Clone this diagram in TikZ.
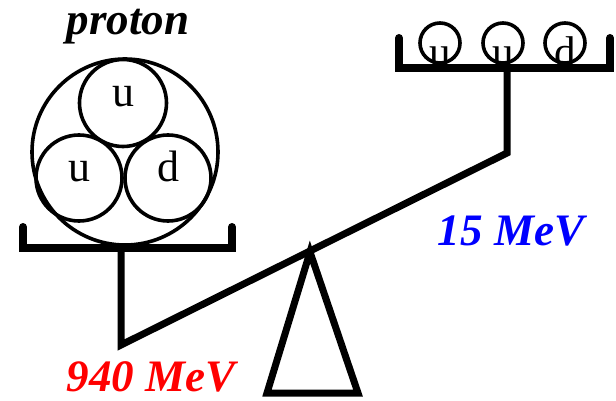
\documentclass[tikz,border=0pt]{standalone}
\usepackage{fontspec}
\setmainfont{Liberation Serif}
\usetikzlibrary{positioning}
\definecolor{heavymass}{HTML}{FF0000}
\definecolor{lightmass}{HTML}{0000FF}
\tikzset{
  quark/.style={circle,draw,line width=3.6pt,inner sep=0pt,minimum size=#1},
  bound/.style={font=\fontsize{44}{44}\selectfont,text height=0.8em,text depth=0pt},
  free/.style={font=\fontsize{43}{43}\selectfont,anchor=base,inner sep=0pt},
  massnote/.style={font=\fontsize{45}{45}\selectfont\bfseries\itshape,anchor=base,inner sep=0pt},
  bar/.style={line width=7pt,line join=miter}
}

\begin{document}
\begin{tikzpicture}[x=1pt,y=-1pt]
    \useasboundingbox (0,0) rectangle (616,401);
    % proton on the heavy pan
    \node[massnote] (ptitle) at (128,35) {proton};
    \node[quark=186] (proton) at (125,152) {};
    \node[quark=87,bound] (pu1) at (123,103) {u};
    \node[quark=86,bound] (pu2) at (79,178) {u};
    \node[quark=86,bound] (pd) at (168,178) {d};
    % the beam
    \coordinate (lpan) at (121,248);
    \coordinate (lend) at (121,345);
    \coordinate (rend) at (507,153);
    \coordinate (rpan) at (507,68);
    \draw[bar,line cap=round,line width=8pt] (23,227) -- (23,248) -- (232,248) -- (232,227);
    \draw[bar,line cap=round,line width=8pt] (399,38) -- (399,68) -- (610,68) -- (610,38);
    \draw[bar] (lpan) -- (lend) -- (rend) -- (rpan);
    \coordinate (apex) at (310,252);
    \draw[bar] (apex) -- (267,393) -- (358,393) -- cycle;
    % free quarks
    \node[quark=40] (fu1) at (440,43) {};
    \node[quark=40] (fu2) at (503,43) {};
    \node[quark=40] (fd) at (565,43) {};
    \node[free] (lu1) at ([yshift=-2pt]fu1.south) {u};
    \node[free] (lu2) at ([yshift=-2pt]fu2.south) {u};
    \node[free] (ld) at ([yshift=-2pt]fd.south) {d};
    % masses
    \node[massnote,color=heavymass] (mp) at (151,391) {940 MeV};
    \node[massnote,color=lightmass] (mq) at (511,245) {15 MeV};
  \end{tikzpicture}
\end{document}
